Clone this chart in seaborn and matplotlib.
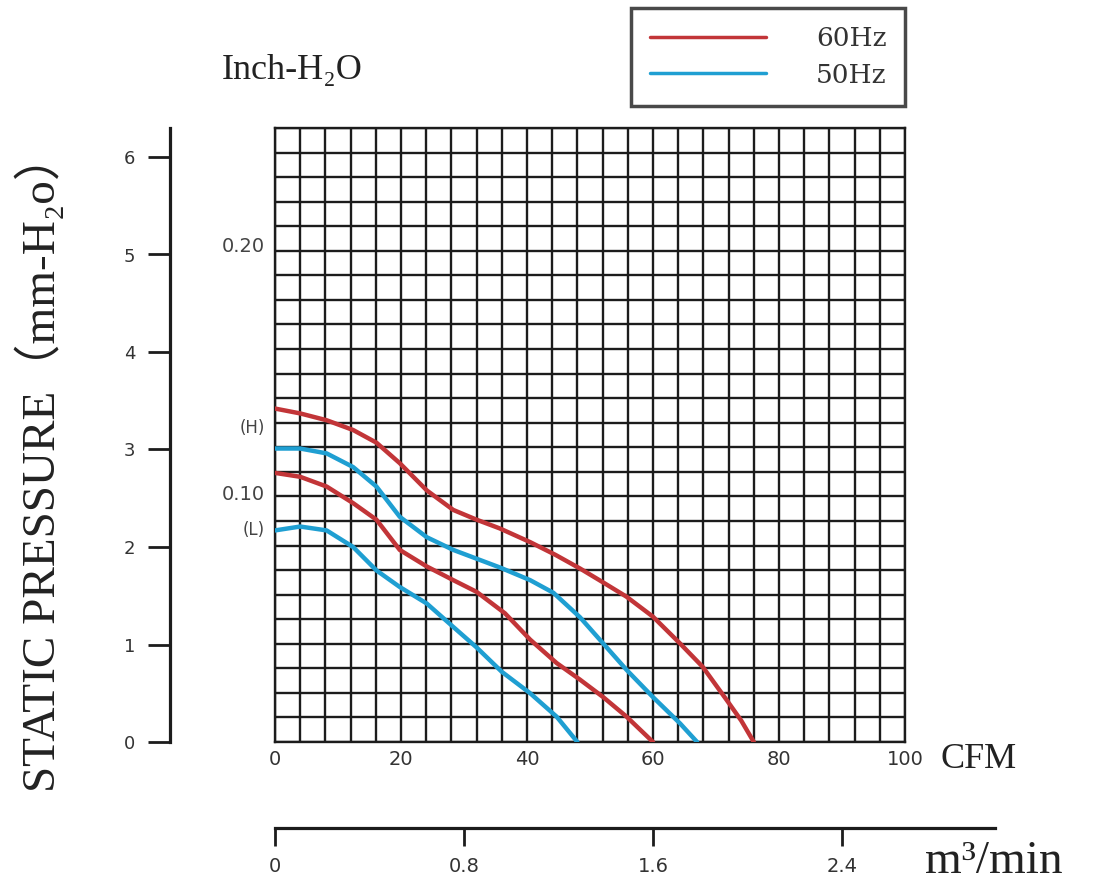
import numpy as np
import pandas as pd
import seaborn as sns
import matplotlib
matplotlib.use("Agg")
from matplotlib import pyplot as plt

# curve readings: CFM vs static pressure (mm-H2O)
hi60_cfm = [0, 4, 8.2, 12.4, 16.1, 19.8, 24.1, 28.3, 32, 35.7, 40.5, 44.5, 48.4, 52, 55.8, 60, 64.3, 67.9, 71.7, 74, 76]
hi60_mm = [3.42, 3.37, 3.30, 3.20, 3.07, 2.86, 2.58, 2.38, 2.28, 2.19, 2.05, 1.92, 1.78, 1.64, 1.49, 1.285, 1.01, 0.77, 0.43, 0.22, 0.0]

hi50_cfm = [0, 4, 8.2, 12.4, 16.1, 19.8, 24.1, 28.3, 32, 35.7, 40.5, 44.2, 48.4, 52.1, 55.8, 60, 64.3, 67]
hi50_mm = [3.01, 3.01, 2.96, 2.82, 2.62, 2.31, 2.10, 1.97, 1.88, 1.79, 1.66, 1.53, 1.28, 1.01, 0.74, 0.46, 0.19, 0.0]

lo60_cfm = [0, 4, 8.2, 12.4, 16.1, 19.8, 24.1, 28.3, 32, 36.5, 40.5, 44.7, 48.4, 52.1, 55.8, 60]
lo60_mm = [2.76, 2.72, 2.62, 2.45, 2.28, 1.97, 1.80, 1.66, 1.54, 1.32, 1.05, 0.81, 0.64, 0.46, 0.26, 0.0]

lo50_cfm = [0, 4, 8.2, 12.4, 16.1, 19.8, 24.1, 28.3, 32, 36, 40.5, 44.7, 48]
lo50_mm = [2.17, 2.21, 2.17, 2.00, 1.76, 1.59, 1.42, 1.18, 0.97, 0.72, 0.50, 0.26, 0.0]

cfm_labels = [0, 20, 40, 60, 80, 100]
mm_ticks = [0, 1, 2, 3, 4, 5, 6]
m3_ticks = [0, 0.8, 1.6, 2.4]
inch_marks = {"0.20": 5.08, "0.10": 2.54}
speed_marks = {"(H)": 3.22, "(L)": 2.17}

red = "#c23538"
blue = "#1f9fd2"
serif = ["Liberation Serif", "DejaVu Serif"]

sns.set_style("white")
W, H = 1093, 891
fig = plt.figure(figsize=(W / 100, H / 100), dpi=100)

def fx(px):
    return px / W

def fy(py):
    return 1 - py / H

rect = [fx(275), fy(742), fx(905) - fx(275), fy(128) - fy(742)]

# grid paper
ax = fig.add_axes(rect)
ax.set_xlim(0, 100)
ax.set_ylim(0, 6.25)
ax.set_xticks(np.arange(0, 101, 4))
ax.set_xticklabels([str(v) if v in cfm_labels else "" for v in range(0, 101, 4)])
ax.set_yticks(np.arange(0, 6.26, 0.25))
ax.set_yticklabels([])
ax.grid(True, color="#1c1c1c", lw=1.7)
ax.set_axisbelow(True)
for s in ax.spines.values():
    s.set_color("#1c1c1c")
    s.set_linewidth(1.7)
ax.tick_params(axis="both", length=0)
ax.tick_params(axis="x", pad=6, labelsize=14, labelcolor="#333333")

# mm-H2O scale on the left, curves drawn in this scale
axl = fig.add_axes(rect)
axl.patch.set_visible(False)
curves = [(hi60_cfm, hi60_mm, red, "60Hz"), (hi50_cfm, hi50_mm, blue, "50Hz"),
          (lo60_cfm, lo60_mm, red, None), (lo50_cfm, lo50_mm, blue, None)]
for xs, ys, c, lab in curves:
    df = pd.DataFrame({"cfm": xs, "mm": ys})
    sns.lineplot(data=df, x="cfm", y="mm", ax=axl, color=c, lw=3.2, sort=False,
                 estimator=None, label=lab, solid_capstyle="round", solid_joinstyle="round")
axl.set_xlabel("")
axl.set_ylabel("")
handles, labels = axl.get_legend_handles_labels()
axl.get_legend().remove()
axl.set_xlim(0, 100)
axl.set_ylim(0, (742 - 128) / 97.5)
axl.set_xticks([])
axl.set_yticks(mm_ticks)
for k in ["top", "right", "bottom"]:
    axl.spines[k].set_visible(False)
axl.spines["left"].set_position(("outward", 105 * 0.72))
axl.spines["left"].set_linewidth(2.3)
axl.spines["left"].set_color("#1c1c1c")
axl.tick_params(axis="y", left=True, direction="out", length=16, width=2, color="#1c1c1c",
                pad=9, labelsize=13, labelcolor="#333333")

# inch-H2O / speed labels left of grid
for t, v in inch_marks.items():
    axl.text(-1.6, v, t, ha="right", va="center", fontsize=14, color="#444444")
for t, v in speed_marks.items():
    axl.text(-1.6, v, t, ha="right", va="center", fontsize=12, color="#444444")

# m3/min scale
axm = fig.add_axes([fx(275), fy(828), fx(995) - fx(275), 0.0005])
axm.patch.set_visible(False)
axm.set_xlim(0, 720 / 236.25)
axm.set_yticks([])
axm.set_xticks(m3_ticks)
axm.set_xticklabels(["0", "0.8", "1.6", "2.4"])
for k in ["top", "right", "left"]:
    axm.spines[k].set_visible(False)
axm.spines["bottom"].set_linewidth(2.3)
axm.spines["bottom"].set_color("#1c1c1c")
axm.tick_params(axis="x", bottom=True, direction="out", length=13, width=2, color="#1c1c1c",
                pad=8, labelsize=14, labelcolor="#333333")

# titles and units
fig.text(fx(222), fy(70), "Inch-H\u2082O", fontsize=26, family=serif, va="center", ha="left", color="#222222")
fig.text(fx(940), fy(760), "CFM", fontsize=26, family=serif, va="center", ha="left", color="#222222")
fig.text(fx(925), fy(862), "m\u00b3/min", fontsize=34, family=serif, va="center", ha="left", color="#222222")
fig.text(fx(40), fy(462), "STATIC PRESSURE\uff08mm-H\u2082o\uff09", fontsize=34, rotation=90,
         family=["Liberation Serif", "Noto Sans CJK SC", "DejaVu Serif"], va="center", ha="center", color="#222222")

leg = fig.legend(handles, labels, loc="upper right", bbox_to_anchor=(fx(905), fy(8)),
                 prop={"family": "DejaVu Serif", "size": 19}, frameon=True, fancybox=False,
                 handlelength=4.4, handletextpad=1.9, borderpad=0.7, labelspacing=0.42,
                 borderaxespad=0)
leg.get_frame().set_edgecolor("#1c1c1c")
leg.get_frame().set_linewidth(2.5)
for t in leg.get_texts():
    t.set_color("#333333")
for l in leg.get_lines():
    l.set_linewidth(2.5)

fig.savefig("out.png", dpi=100)
